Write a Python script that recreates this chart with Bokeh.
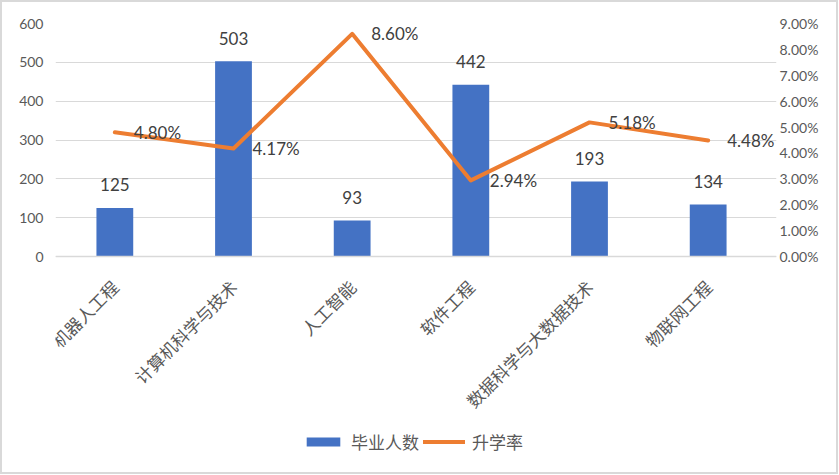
import math
from bokeh.plotting import figure
from bokeh.models import (ColumnDataSource, Range1d, LinearAxis, FixedTicker,
                          NumeralTickFormatter, LabelSet, Legend, LegendItem)
from bokeh.core.properties import value
from bokeh.embed import file_html
from bokeh.resources import INLINE

categories = ["机器人工程", "计算机科学与技术", "人工智能", "软件工程", "数据科学与大数据技术", "物联网工程"]
graduates = [125, 503, 93, 442, 193, 134]
rates = [0.0480, 0.0417, 0.0860, 0.0294, 0.0518, 0.0448]
left_ticks = [0, 100, 200, 300, 400, 500, 600]
right_ticks = [0.00, 0.01, 0.02, 0.03, 0.04, 0.05, 0.06, 0.07, 0.08, 0.09]

BLUE = "#4472C4"
ORANGE = "#ED7D31"
GRAY = "#595959"
DARK = "#404040"
NUMFONT = "Lato"
CJKFONT = "Noto Sans CJK SC"

xpos = [i + 0.5 for i in range(len(categories))]
src = ColumnDataSource(dict(
    x=xpos,
    grad=graduates,
    grad_txt=[str(g) for g in graduates],
    rate=rates,
    rate_txt=[f"{r:.2%}" for r in rates],
))

# layout: value area 233px tall, frame extended below it to hold category labels and legend
CAT_W = 712 / 6.0
FRAME_W = 721
VAL_H = 233
FRAME_H = 437
ext = (FRAME_H / VAL_H) - 1.0
y_max = left_ticks[-1]
r_max = right_ticks[-1]

p = figure(frame_width=FRAME_W, frame_height=FRAME_H, output_backend="svg", toolbar_location=None,
           x_range=Range1d(0, FRAME_W / CAT_W),
           y_range=Range1d(-y_max * ext, y_max),
           min_border_left=53, min_border_right=60, min_border_top=21, min_border_bottom=12)
p.outline_line_color = None
p.extra_y_ranges = {"rate": Range1d(-r_max * ext, r_max)}

bars = p.vbar(x="x", top="grad", width=0.31, source=src, fill_color=BLUE, line_color=None)
line = p.line(x="x", y="rate", source=src, y_range_name="rate", line_color=ORANGE,
              line_width=4, line_cap="round", line_join="round")

# left axis
ya = p.yaxis[0]
ya.ticker = FixedTicker(ticks=left_ticks)
ya.axis_line_color = None
ya.major_tick_line_color = None
ya.minor_tick_line_color = None
ya.major_tick_out = 0
ya.major_label_standoff = 12
ya.major_label_text_font = NUMFONT
ya.major_label_text_font_size = "14px"
ya.major_label_text_color = GRAY

# right axis
ra = LinearAxis(y_range_name="rate", ticker=FixedTicker(ticks=right_ticks),
                formatter=NumeralTickFormatter(format="0.00%"))
ra.axis_line_color = None
ra.major_tick_line_color = None
ra.minor_tick_line_color = None
ra.major_tick_out = 0
ra.major_label_standoff = 3
ra.major_label_text_font = NUMFONT
ra.major_label_text_font_size = "14px"
ra.major_label_text_color = GRAY
p.add_layout(ra, "right")

# x axis, pinned at value 0
xa = p.xaxis[0]
xa.fixed_location = 0
xa.ticker = FixedTicker(ticks=xpos)
xa.major_label_overrides = {x: c for x, c in zip(xpos, categories)}
xa.axis_line_color = "#D9D9D9"
xa.axis_line_width = 1.5
xa.major_tick_line_color = None
xa.minor_tick_line_color = None
xa.major_tick_out = 0
xa.major_label_orientation = math.pi / 4
xa.major_label_standoff = 27
xa.major_label_text_font = CJKFONT
xa.major_label_text_font_size = "17px"
xa.major_label_text_color = GRAY

p.xgrid.grid_line_color = None
p.ygrid.ticker = FixedTicker(ticks=left_ticks)
p.ygrid.grid_line_color = "#D9D9D9"
p.ygrid.grid_line_width = 1

bar_labels = LabelSet(x="x", y="grad", text="grad_txt", source=src, text_align="center",
                      text_baseline="middle", y_offset=23, text_font=value(NUMFONT),
                      text_font_size="17px", text_color=DARK)
rate_labels = LabelSet(x="x", y="rate", text="rate_txt", source=src, y_range_name="rate",
                       text_align="left", text_baseline="middle", x_offset=19,
                       text_font=value(NUMFONT), text_font_size="17px", text_color=DARK)
p.add_layout(bar_labels)
p.add_layout(rate_labels)

legend = Legend(items=[LegendItem(label="毕业人数", renderers=[bars]),
                       LegendItem(label="升学率", renderers=[line])],
                orientation="horizontal", location=(247, 6),
                label_text_font=CJKFONT, label_text_font_size="17px",
                label_text_color=GRAY, glyph_width=42, glyph_height=11,
                border_line_color=None, background_fill_alpha=0,
                spacing=4, label_standoff=7, padding=0, margin=0)
p.add_layout(legend, "center")

p.styles = {"border": "2px solid #D9D9D9"}

open("out.html", "w").write(file_html(p, INLINE))
